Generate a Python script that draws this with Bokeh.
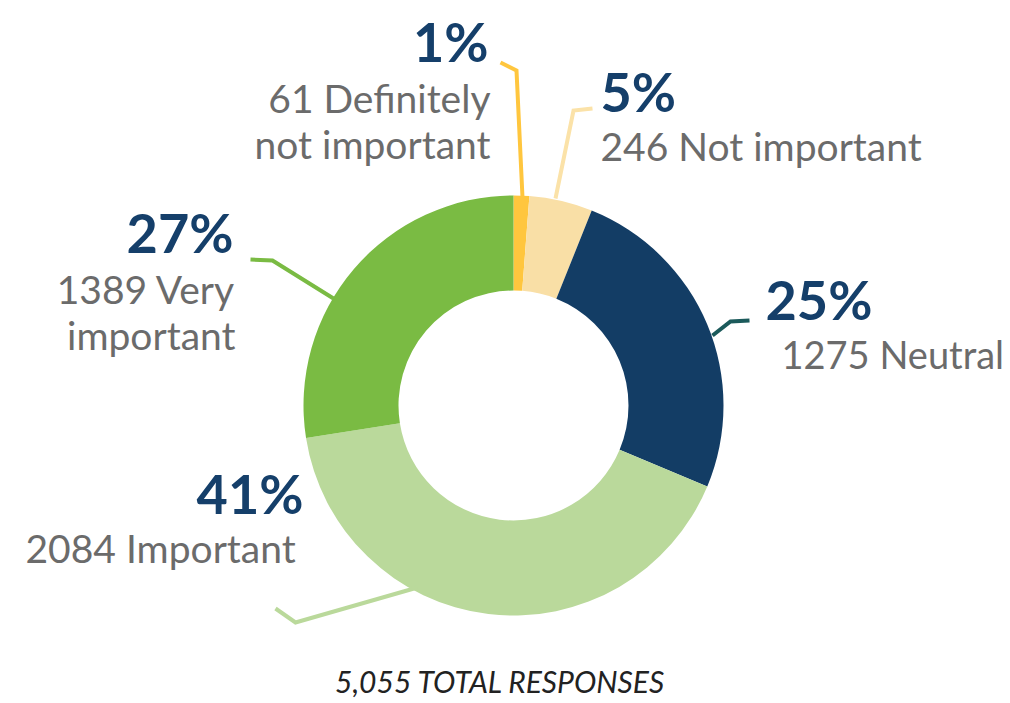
import numpy as np
from bokeh.plotting import figure
from bokeh.models import Range1d, ColumnDataSource
from bokeh.core.properties import value
from bokeh.embed import file_html
from bokeh.resources import INLINE

# ---- data ----
categories = ["Definitely not important", "Not important", "Neutral", "Important", "Very important"]
counts = [61, 246, 1275, 2084, 1389]
pct_labels = ["1%", "5%", "25%", "41%", "27%"]
count_labels = ["61 Definitely\nnot important", "246 Not important", "1275 Neutral",
                "2084 Important", "1389 Very\nimportant"]
total_label = "5,055 TOTAL RESPONSES"

# ---- styles ----
colors = ["#FFC63E", "#F9DFA6", "#133D65", "#BAD99B", "#7ABB43"]
line_colors = ["#FFC63E", "#FBE2A8", "#1B5A5B", "#BAD99B", "#7ABB43"]
PCT_COLOR = "#153F6A"
GRAY = "#6B6B6B"

W, H = 1010, 703
p = figure(width=W, height=H, output_backend="svg", toolbar_location=None,
           x_range=Range1d(0, W), y_range=Range1d(-H, 0),
           min_border=0, outline_line_color=None)
p.axis.visible = False
p.grid.visible = False
p.background_fill_color = "white"
p.border_fill_color = "white"

cx, cy = 513, -405
r_out, r_in = 210, 115

vals = np.array(counts, dtype=float)
frac = vals / vals.sum()
cum = np.concatenate([[0], np.cumsum(frac)])
start = np.pi / 2 - cum[:-1] * 2 * np.pi
end = np.pi / 2 - cum[1:] * 2 * np.pi

src = ColumnDataSource(dict(start=start, end=end, color=colors))
p.annular_wedge(x=cx, y=cy, inner_radius=r_in, outer_radius=r_out,
                start_angle="start", end_angle="end", direction="clock",
                fill_color="color", line_color=None, source=src)

# ---- leader lines (layout) ----
leaders = [
    [(522, 197), (516, 70), (500, 62)],
    [(555, 198), (573, 110), (592, 108)],
    [(712, 335), (730, 321), (749, 320)],
    [(417, 587), (295, 622), (275, 608)],
    [(333, 298), (272, 260), (250, 259)],
]
for pts, c in zip(leaders, line_colors):
    p.line([q[0] for q in pts], [-q[1] for q in pts], line_color=c, line_width=4,
           line_join="miter")

# ---- labels (layout) ----
pct_pos = [(488, 62, "right"), (600, 112, "left"), (765, 320, "left"),
           (303, 514, "right"), (233, 253, "right")]
cnt_pos = [(490, 112, "right"), (600, 160, "left"), (781, 368, "left"),
           (25, 562, "left"), (235, 303, "right")]

PCT_FS, CNT_FS, TOT_FS = 54, 39, 30
SHIFT = 0.38  # baseline correction (fraction of font size)

for lab, (x, y, al) in zip(pct_labels, pct_pos):
    p.text(x=[x], y=[-(y - SHIFT * PCT_FS)], text=[lab], text_font=value("Lato"),
           text_font_style="bold", text_font_size=f"{PCT_FS}px", text_color=PCT_COLOR,
           text_align=al, text_baseline="alphabetic")

for lab, (x, y, al) in zip(count_labels, cnt_pos):
    fs = CNT_FS - 1 if al == "left" and x > 700 else CNT_FS
    for i, line in enumerate(lab.split("\n")):
        p.text(x=[x], y=[-(y + 46 * i - SHIFT * fs)], text=[line],
               text_font=value("Lato"), text_font_size=f"{fs}px", text_color=GRAY,
               text_align=al, text_baseline="alphabetic")

p.text(x=[500], y=[-(692 - SHIFT * TOT_FS)], text=[total_label], text_font=value("Lato"),
       text_font_style="italic", text_font_size=f"{TOT_FS}px", text_color="#222222",
       text_align="center", text_baseline="alphabetic")

open("out.html", "w").write(file_html(p, INLINE))
